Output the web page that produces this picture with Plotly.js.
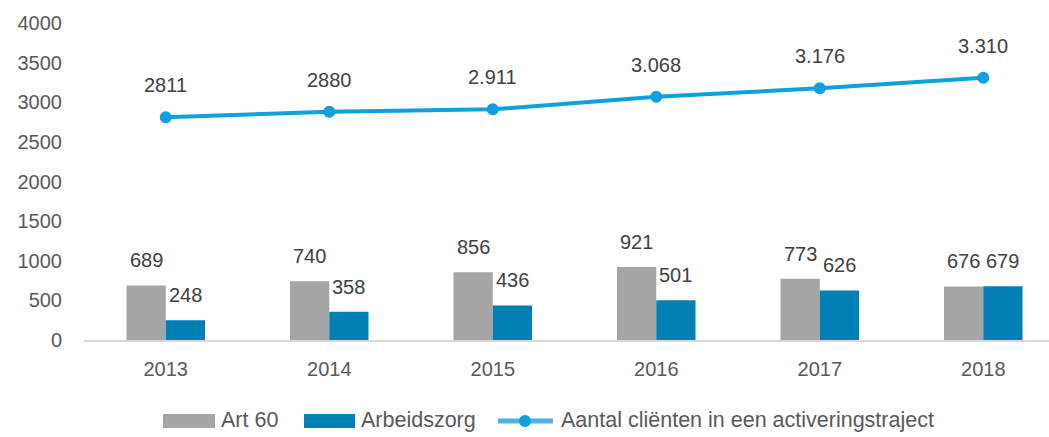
<!DOCTYPE html>
<html>
<head>
<meta charset="utf-8">
<script src="https://cdn.plot.ly/plotly-3.0.1.min.js"></script>
<style>
  html, body { margin: 0; padding: 0; background: #ffffff; }
  #chart { width: 1049px; height: 437px; }
</style>
</head>
<body>
<div id="chart"></div>
<script>
// ---- data ----
const years = ["2013", "2014", "2015", "2016", "2017", "2018"];
const art60 = [689, 740, 856, 921, 773, 676];
const arbeidszorg = [248, 358, 436, 501, 626, 679];
const clienten = [2811, 2880, 2911, 3068, 3176, 3310];
const clientenLabels = ["2811", "2880", "2.911", "3.068", "3.176", "3.310"];
const yTicks = [0, 500, 1000, 1500, 2000, 2500, 3000, 3500, 4000];
const seriesNames = ["Art 60", "Arbeidszorg", "Aantal cliënten in een activeringstraject"];

// ---- style ----
const FONT = "Liberation Sans, Arial, sans-serif";
const TXT = "#595959";
const LBL = "#404040";
const GRAY = "#A5A5A5";
const BLUE = "#0080B4";
const LINE = "#0FA0E0";
const BAR_OFFSET = 0.12;

// plot area geometry (pixels) for paper-coordinate helpers
const W = 1049, H = 437, ML = 84, MR = 0, MT = 23, MB = 97;
const px = x => (x - ML) / (W - ML - MR);
const py = y => (H - MB - y) / (H - MB - MT);

const traces = [
  {
    type: "bar", name: seriesNames[0], x: years, y: art60,
    marker: { color: GRAY }, hoverinfo: "x+y"
  },
  {
    type: "bar", name: seriesNames[1], x: years, y: arbeidszorg,
    marker: { color: BLUE }, hoverinfo: "x+y"
  },
  {
    type: "scatter", mode: "lines+markers",
    name: seriesNames[2],
    x: years, y: clienten,
    line: { color: LINE, width: 4 },
    marker: { color: LINE, size: 12 }
  }
];

const annotations = [];
years.forEach((yr, i) => {
  annotations.push({
    x: i - BAR_OFFSET, y: art60[i], xref: "x", yref: "y",
    text: String(art60[i]), showarrow: false, yanchor: "middle", yshift: 25,
    font: { family: FONT, size: 20, color: LBL }
  });
  annotations.push({
    x: i + BAR_OFFSET, y: arbeidszorg[i], xref: "x", yref: "y",
    text: String(arbeidszorg[i]), showarrow: false, yanchor: "middle", yshift: 25,
    font: { family: FONT, size: 20, color: LBL }
  });
  annotations.push({
    x: i, y: clienten[i], xref: "x", yref: "y",
    text: clientenLabels[i], showarrow: false, yanchor: "middle", yshift: 32,
    font: { family: FONT, size: 20, color: LBL }
  });
});

// ---- custom legend (wide swatches, like the reference) ----
const LEG_Y = 420;
const legendTextX = [219, 359, 559];
legendTextX.forEach((lx, k) => {
  annotations.push({
    x: px(lx), y: py(LEG_Y), xref: "paper", yref: "paper",
    xanchor: "left", yanchor: "middle", showarrow: false,
    text: seriesNames[k],
    font: { family: FONT, size: 21.5, color: TXT }
  });
});
const shapes = [
  { type: "rect", xref: "paper", yref: "paper",
    x0: px(163), x1: px(215), y0: py(LEG_Y - 6), y1: py(LEG_Y + 8),
    fillcolor: GRAY, line: { width: 0 } },
  { type: "rect", xref: "paper", yref: "paper",
    x0: px(304), x1: px(355), y0: py(LEG_Y - 6), y1: py(LEG_Y + 8),
    fillcolor: BLUE, line: { width: 0 } },
  { type: "line", xref: "paper", yref: "paper",
    x0: px(498), x1: px(553), y0: py(LEG_Y + 1), y1: py(LEG_Y + 1),
    line: { color: "#4DB3E6", width: 5 } },
  { type: "circle", xref: "paper", yref: "paper",
    x0: px(519), x1: px(531), y0: py(LEG_Y - 5), y1: py(LEG_Y + 7),
    fillcolor: LINE, line: { width: 0 } }
];

const layout = {
  width: W, height: H,
  margin: { l: ML, r: MR, t: MT, b: MB, autoexpand: false },
  paper_bgcolor: "#ffffff", plot_bgcolor: "#ffffff",
  font: { family: FONT, size: 20, color: TXT },
  barmode: "group", bargap: 0.52, bargroupgap: 0,
  showlegend: false,
  xaxis: {
    type: "category", range: [-0.5, 5.402],
    showgrid: false, zeroline: false,
    showline: true, linecolor: "#D9D9D9", linewidth: 2,
    ticks: "", ticklabelstandoff: 10,
    tickfont: { family: FONT, size: 20, color: TXT }
  },
  yaxis: {
    range: [0, 4000], tickvals: yTicks, ticktext: yTicks.map(String),
    showgrid: false, zeroline: false, showline: false,
    ticks: "", ticklabelstandoff: 21,
    tickfont: { family: FONT, size: 20, color: TXT }
  },
  annotations: annotations,
  shapes: shapes
};

Plotly.newPlot("chart", traces, layout, { displayModeBar: false, staticPlot: true });
</script>
</body>
</html>
